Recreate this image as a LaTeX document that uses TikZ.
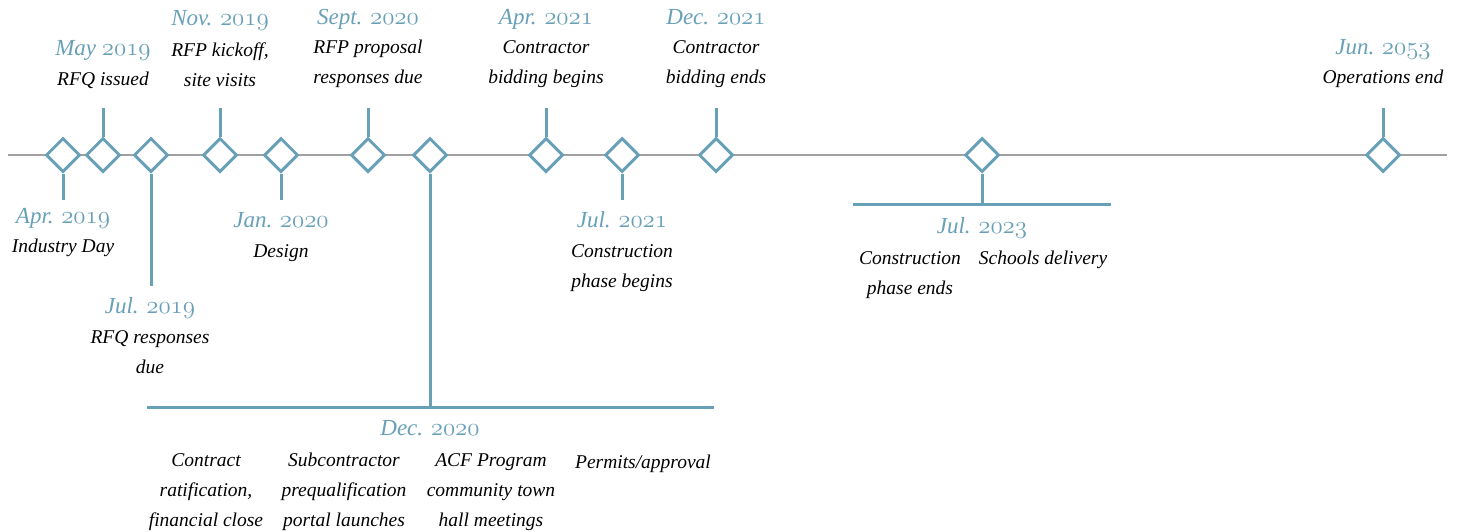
\documentclass[tikz,border=0pt]{standalone}
\usepackage{fontspec}
\setmainfont{Liberation Serif}
\usetikzlibrary{shapes.geometric}
\definecolor{teal}{RGB}{104,160,184}
\definecolor{axis}{RGB}{160,160,160}
\newcommand{\osn}[1]{{\usefont{OML}{cmm}{m}{it}#1}}
\tikzset{
  ms/.style={draw=teal,line width=3pt,fill=white,shape=diamond,minimum width=34pt,minimum height=34pt,inner sep=0pt},
  stem/.style={draw=teal,line width=3pt},
  axisline/.style={draw=axis,line width=1.5pt},
  date/.style={text=teal,font=\fontsize{23}{26}\selectfont\itshape,anchor=base,inner sep=0pt},
  desc/.style={text=black,font=\fontsize{19.5}{30}\selectfont\itshape,anchor=base,inner sep=0pt,align=center},
}
\begin{document}
\begin{tikzpicture}[x=1pt,y=-1pt]
\useasboundingbox (0,0) rectangle (1465,531);
\coordinate (L) at (8,155);
\coordinate (R) at (1447,155);
\draw[axisline] (L) -- (R);
% diamonds
\node[ms] (d1) at (63,155) {};
\node[ms] (d2) at (103,155) {};
\node[ms] (d3) at (151,155) {};
\node[ms] (d4) at (220,155) {};
\node[ms] (d5) at (281,155) {};
\node[ms] (d6) at (368,155) {};
\node[ms] (d7) at (430,155) {};
\node[ms] (d8) at (546,155) {};
\node[ms] (d9) at (622,155) {};
\node[ms] (d10) at (716,155) {};
\node[ms] (d11) at (982,155) {};
\node[ms] (d12) at (1383,155) {};
% stem ends
\coordinate (s1) at (63,200);
\coordinate (s2) at (103,108);
\coordinate (s3) at (151,286);
\coordinate (s4) at (220,108);
\coordinate (s5) at (281,200);
\coordinate (s6) at (368,108);
\coordinate (s7) at (430,407);
\coordinate (s8) at (546,108);
\coordinate (s9) at (622,200);
\coordinate (s10) at (716,108);
\coordinate (s11) at (982,204);
\coordinate (s12) at (1383,108);
\foreach \i in {1,...,12} {\draw[stem] (d\i) -- (s\i);}
\coordinate (b7l) at (147,407);
\coordinate (b7r) at (714,407);
\draw[stem] (b7l) -- (b7r);
\coordinate (b11l) at (853,204);
\coordinate (b11r) at (1111,204);
\draw[stem] (b11l) -- (b11r);
% labels (anchor = baseline of last line)
\node[date] (t1) at (63,223) {Apr. \osn{2019}};
\node[desc] (x1) at (63,252) {Industry Day};
\node[date] (t2) at (103,55) {May \osn{2019}};
\node[desc] (x2) at (103,85) {RFQ issued};
\node[date] (t3) at (150,313) {Jul. \osn{2019}};
\node[desc] (x3) at (150,373) {RFQ responses\\due};
\node[date] (t4) at (220,25) {Nov. \osn{2019}};
\node[desc] (x4) at (220,86) {RFP kickoff,\\site visits};
\node[date] (t5) at (281,227) {Jan. \osn{2020}};
\node[desc] (x5) at (281,257) {Design};
\node[date] (t6) at (368,24) {Sept. \osn{2020}};
\node[desc] (x6) at (368,83) {RFP proposal\\responses due};
\node[date] (t7) at (430,435) {Dec. \osn{2020}};
\node[desc] (x7a) at (206,526) {Contract\\ratification,\\financial close};
\node[desc] (x7b) at (344,526) {Subcontractor\\prequalification\\portal launches};
\node[desc] (x7c) at (491,526) {ACF Program\\community town\\hall meetings};
\node[desc] (x7d) at (643,468) {Permits/approval};
\node[date] (t8) at (546,24) {Apr. \osn{2021}};
\node[desc] (x8) at (546,83) {Contractor\\bidding begins};
\node[date] (t9) at (622,227) {Jul. \osn{2021}};
\node[desc] (x9) at (622,287) {Construction\\phase begins};
\node[date] (t10) at (716,24) {Dec. \osn{2021}};
\node[desc] (x10) at (716,83) {Contractor\\bidding ends};
\node[date] (t11) at (982,233) {Jul. \osn{2023}};
\node[desc] (x11a) at (910,294) {Construction\\phase ends};
\node[desc] (x11b) at (1043,264) {Schools delivery};
\node[date] (t12) at (1383,54) {Jun. \osn{2053}};
\node[desc] (x12) at (1383,83) {Operations end};
\end{tikzpicture}
\end{document}
